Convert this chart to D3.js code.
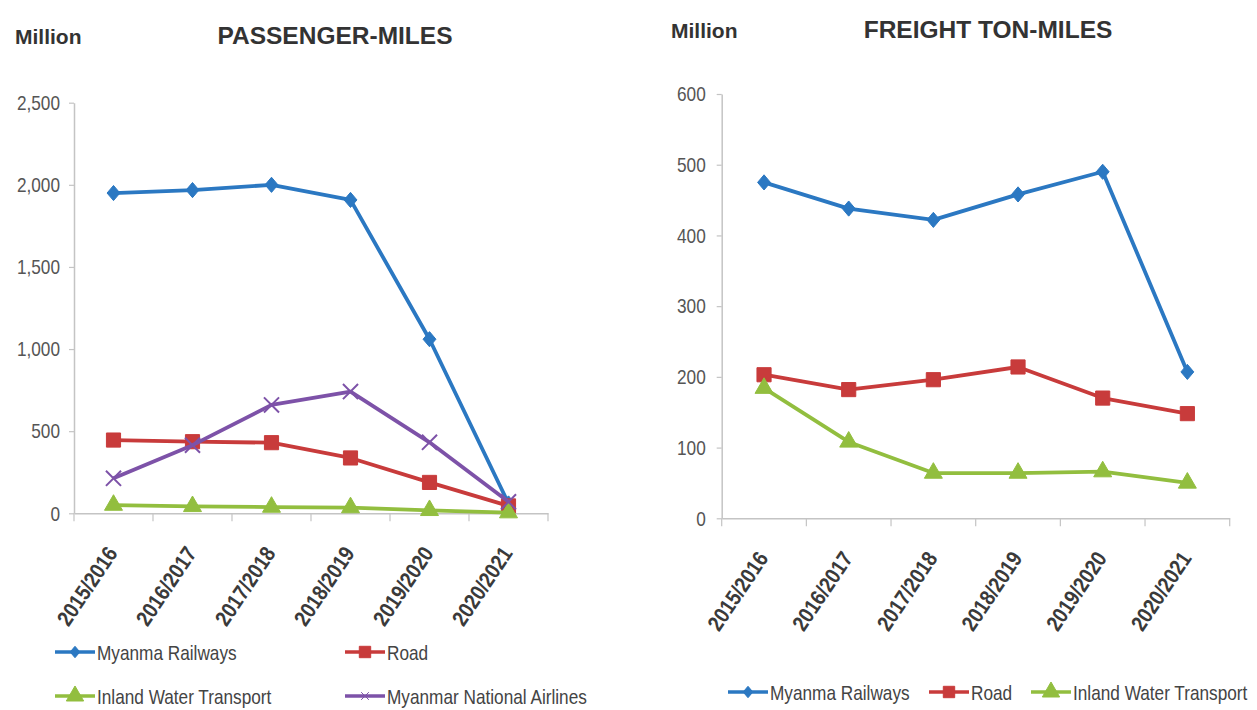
<!DOCTYPE html>
<html><head><meta charset="utf-8">
<script src="https://cdn.jsdelivr.net/npm/d3@7"></script>
<style>
html,body{margin:0;padding:0;background:#fff;}
svg{display:block;}
</style></head>
<body>
<svg id="c" width="1257" height="710"></svg>
<script>
// ---- data ----
const categories = ["2015/2016","2016/2017","2017/2018","2018/2019","2019/2020","2020/2021"];
const passTicks = [0, 500, 1000, 1500, 2000, 2500];
const freightTicks = [0, 100, 200, 300, 400, 500, 600];
const passRailways = [1950, 1968, 2000, 1908, 1060, 60];
const passRoad     = [446, 436, 430, 337, 188, 45];
const passWater    = [50, 42, 38, 35, 18, 4];
const passAirlines = [213, 415, 660, 741, 432, 70];
const freightRailways = [475, 438, 422, 458, 490, 207];
const freightRoad     = [203, 182, 196, 214, 170, 148];
const freightWater    = [184, 108, 64, 64, 66, 50];

const C = {blue:"#2B78C2", red:"#C83B3B", green:"#92BE3F", purple:"#7D52A8"};
const SANS = "'Liberation Sans',Arial,sans-serif";
const SX = 0.82; // horizontal condensing of narrow-looking labels

const diamond = {draw(ctx, size){ const w=Math.sqrt(size)/2*0.85, h=Math.sqrt(size)/2; ctx.moveTo(0,-h); ctx.lineTo(w,0); ctx.lineTo(0,h); ctx.lineTo(-w,0); ctx.closePath(); }};
const symType = {diamond: diamond, square: d3.symbolSquare, triangle: d3.symbolTriangle, x: d3.symbolX};
const symSize = {diamond:230, square:200, triangle:140, x:150};

const svg = d3.select("#c");

function drawChart(cfg){
  const g = svg.append("g");
  const x = d3.scaleBand().domain(categories).range([cfg.x0, cfg.x1]);
  const y = d3.scaleLinear().domain([0, cfg.max]).range([cfg.y0, cfg.y1]);

  // y axis
  const ya = g.append("g").attr("transform", `translate(${cfg.x0},0)`)
    .call(d3.axisLeft(y).tickValues(cfg.ticks).tickSize(5).tickSizeOuter(0).tickFormat(d3.format(",")));
  ya.select(".domain").attr("stroke","#c4c4c4").attr("stroke-width",1.5);
  ya.selectAll(".tick line").attr("stroke","#c4c4c4").attr("stroke-width",1.2);
  ya.selectAll("text").attr("fill","#555").style("font-family",SANS).style("font-size","21px")
    .attr("x", -cfg.ygap / SX).attr("transform", `scale(${SX},1)`);

  // x axis line + boundary ticks
  const xa = g.append("g").attr("transform", `translate(0,${cfg.y0})`)
    .call(d3.axisBottom(x).tickSize(0).tickSizeOuter(0).tickPadding(0));
  xa.select(".domain").attr("stroke","#c4c4c4").attr("stroke-width",1.5);
  const bounds = categories.map(c => x(c)).concat([x(categories[categories.length-1]) + x.bandwidth()]);
  xa.selectAll(".bt").data(bounds).enter().append("line")
    .attr("x1", d=>d).attr("x2", d=>d).attr("y1",0).attr("y2",8)
    .attr("stroke","#c4c4c4").attr("stroke-width",1.2);
  xa.selectAll(".tick text")
    .attr("fill","#3a3a3a").style("font-family",SANS).style("font-size","22px").style("font-weight","bold")
    .attr("text-anchor","end").attr("y",0).attr("dy",0)
    .attr("transform", `translate(5,40) rotate(-56) scale(0.86,1)`);

  // series
  cfg.series.forEach(s => {
    const cx = (d,i) => x(categories[i]) + x.bandwidth()/2;
    const line = d3.line().x(cx).y(d => y(d));
    g.append("path").datum(s.values).attr("d", line)
      .attr("fill","none").attr("stroke", s.color).attr("stroke-width",3.8).attr("stroke-linejoin","round");
    g.selectAll(null).data(s.values).enter().append("path")
      .attr("transform",(d,i)=>`translate(${cx(d,i)},${y(d)})`)
      .attr("d", d3.symbol().type(symType[s.marker]).size(symSize[s.marker])())
      .attr("fill", s.marker==="x" ? "none" : s.color)
      .attr("stroke", s.color).attr("stroke-width", s.marker==="x" ? 2 : 1);
  });

  // titles
  g.append("text").attr("x", cfg.millionX).attr("y", cfg.titleY).text("Million")
    .attr("fill","#333").style("font-family",SANS).style("font-weight","bold").style("font-size","21px");
  g.append("text").attr("x", cfg.titleX).attr("y", cfg.titleY).attr("text-anchor","middle").text(cfg.title)
    .attr("fill","#333").style("font-family",SANS).style("font-weight","bold").style("font-size","24.5px");

  // legend
  cfg.legend.forEach(l => {
    const s = cfg.series[l.i];
    const lg = g.append("g").attr("transform", `translate(${l.x},${l.y})`);
    lg.append("line").attr("x1",0).attr("x2",40).attr("y1",0).attr("y2",0)
      .attr("stroke", s.color).attr("stroke-width",3.5);
    lg.append("path").attr("transform","translate(20,0)")
      .attr("d", d3.symbol().type(symType[s.marker]).size(s.marker==="x"?40:130)())
      .attr("fill", s.marker==="x"?"none":s.color).attr("stroke", s.color).attr("stroke-width",1);
    lg.append("text").attr("x",42 / SX).attr("y",0).attr("dy","0.36em").text(s.name)
      .attr("transform", `scale(${SX},1)`)
      .attr("fill","#444").style("font-family",SANS).style("font-size","21px");
  });
}

drawChart({
  x0:74, x1:548, y0:513.3, y1:102.7, max:2500, ticks:passTicks, ygap:14,
  title:"PASSENGER-MILES", titleX:335, titleY:44, millionX:15,
  series:[
    {name:"Myanma Railways", values:passRailways, color:C.blue, marker:"diamond"},
    {name:"Road", values:passRoad, color:C.red, marker:"square"},
    {name:"Inland Water Transport", values:passWater, color:C.green, marker:"triangle"},
    {name:"Myanmar National Airlines", values:passAirlines, color:C.purple, marker:"x"}
  ],
  legend:[{i:0,x:55,y:652},{i:1,x:345,y:652},{i:2,x:55,y:696},{i:3,x:345,y:696}]
});

drawChart({
  x0:721.7, x1:1229.7, y0:518.3, y1:94, max:600, ticks:freightTicks, ygap:16,
  title:"FREIGHT TON-MILES", titleX:988, titleY:38, millionX:671,
  series:[
    {name:"Myanma Railways", values:freightRailways, color:C.blue, marker:"diamond"},
    {name:"Road", values:freightRoad, color:C.red, marker:"square"},
    {name:"Inland Water Transport", values:freightWater, color:C.green, marker:"triangle"}
  ],
  legend:[{i:0,x:728,y:692},{i:1,x:929,y:692},{i:2,x:1031,y:692}]
});
</script>
</body></html>
